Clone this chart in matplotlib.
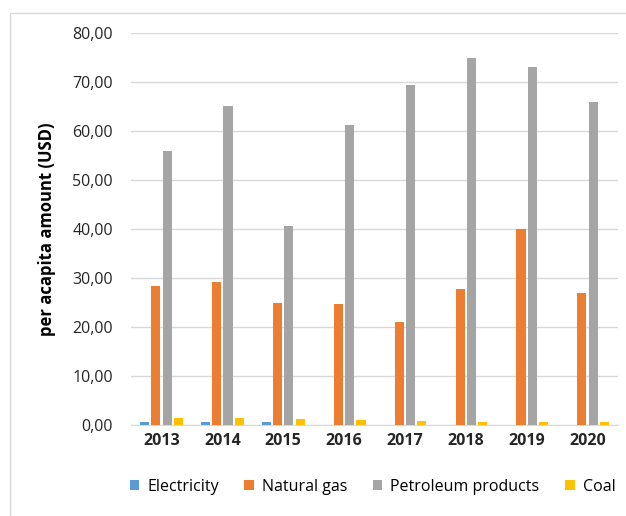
import numpy as np
import matplotlib.pyplot as plt
from matplotlib.patches import Rectangle
from matplotlib.ticker import FuncFormatter

plt.rcParams['font.family'] = ['Open Sans', 'DejaVu Sans']

years = ['2013', '2014', '2015', '2016', '2017', '2018', '2019', '2020']
electricity = [0.6, 0.6, 0.6, 0.0, 0.0, 0.0, 0.0, 0.0]
natural_gas = [28.3, 29.1, 24.8, 24.6, 21.0, 27.8, 40.1, 27.0]
petroleum = [56.0, 65.1, 40.7, 61.2, 69.4, 74.9, 73.0, 65.9]
coal = [1.4, 1.4, 1.2, 1.1, 0.9, 0.6, 0.6, 0.6]

series = [('Electricity', electricity, '#5B9BD5'),
          ('Natural gas', natural_gas, '#ED7D31'),
          ('Petroleum products', petroleum, '#A5A5A5'),
          ('Coal', coal, '#FFC000')]

fig = plt.figure(figsize=(6.26, 5.16), dpi=100)
ax = fig.add_axes([131 / 626, 1 - 425 / 516, 487 / 626, 392 / 516])

# outer chart border (only left and top edges show, the rest is cropped)
fig.patches.append(Rectangle((10 / 626, -0.1), 1.0, 1.1 - 13 / 516 + 0.0, transform=fig.transFigure,
                             fill=False, edgecolor='#d9d9d9', linewidth=1))

x = np.arange(len(years))
w = 0.15
step = 0.185
for i, (name, vals, col) in enumerate(series):
    ax.bar(x + (i - 1.5) * step, vals, width=w, color=col, label=name, zorder=3)

ax.set_ylim(0, 80)
ax.set_xlim(-0.5, len(years) - 0.5)
ax.set_yticks(np.arange(0, 81, 10))
ax.yaxis.set_major_formatter(FuncFormatter(lambda v, p: f'{v:.2f}'.replace('.', ',')))
ax.set_xticks(x)
ax.set_xticklabels(years, fontweight='bold')
ax.tick_params(axis='both', length=0, labelsize=11.5, colors='#262626')
ax.tick_params(axis='y', pad=13)
ax.tick_params(axis='x', pad=6)
ax.grid(axis='y', color='#d9d9d9', linewidth=1, zorder=0)
for s in ['top', 'right', 'left']:
    ax.spines[s].set_visible(False)
ax.spines['bottom'].set_color('#d9d9d9')
ax.set_ylabel('per acapita amount (USD)', fontweight='bold', fontsize=12, labelpad=12)

fig.legend(loc='center', bbox_to_anchor=(0.595, 1 - 487 / 516), ncol=4, frameon=False,
           fontsize=11.5, handlelength=0.6, handleheight=0.6, columnspacing=1.6, handletextpad=0.5)

fig.savefig('out.png', dpi=100)
